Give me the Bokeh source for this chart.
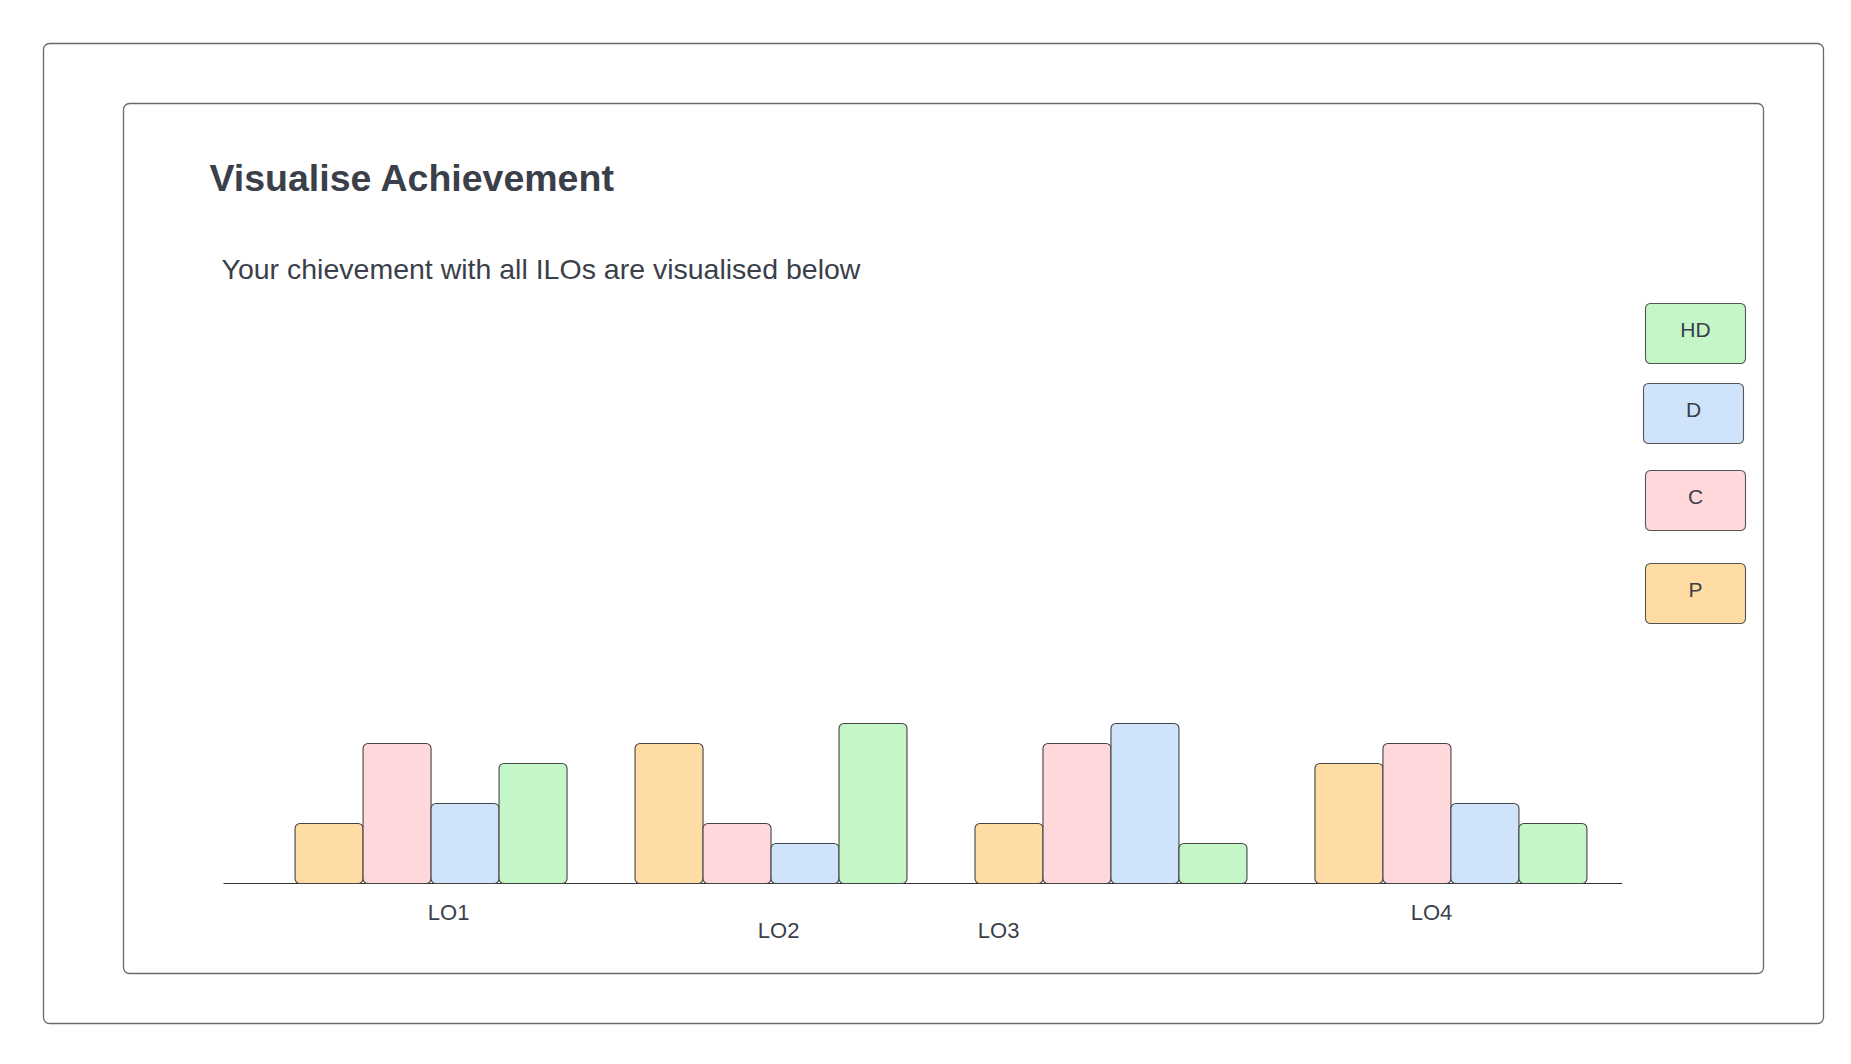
from bokeh.plotting import figure
from bokeh.models import FactorRange, ColumnDataSource, BoxAnnotation, Label, Range1d
from bokeh.transform import factor_cmap
from bokeh.core.properties import value
from bokeh.embed import file_html
from bokeh.resources import INLINE

# ---- data ----
los = ["LO1", "LO2", "LO3", "LO4"]
grades = ["P", "C", "D", "HD"]
p_vals = [3, 7, 3, 6]
c_vals = [7, 3, 7, 7]
d_vals = [4, 2, 8, 4]
hd_vals = [6, 8, 2, 3]
grade_colors = ["#ffdca3", "#ffd8dc", "#cfe3fb", "#c4f6c8"]
legend_order = ["HD", "D", "C", "P"]
title_text = "Visualise Achievement"
subtitle_text = "Your chievement with all ILOs are visualised below"

# ---- style / layout ----
TEXT = "#3a3f4a"
FONT = "Liberation Sans"
label_dx = [17.6, 7.6, -112.4, -19.4]
label_dy = [28.5, 46.5, 46.5, 28.5]
legend_left = [1645, 1643, 1645, 1645]
legend_top = [303, 383, 470, 563]

x = [(lo, g) for lo in los for g in grades]
vals = []
for i in range(len(los)):
    vals += [p_vals[i], c_vals[i], d_vals[i], hd_vals[i]]
src = ColumnDataSource(dict(x=x, v=vals))

p = figure(width=1851, height=1064,
           x_range=FactorRange(*x, group_padding=1.0, range_padding=3.744,
                               range_padding_units="absolute"),
           y_range=Range1d(-9.05, 44.15),
           output_backend="svg", toolbar_location=None,
           x_axis_location=None, y_axis_location=None,
           min_border_left=40, min_border_right=10,
           min_border_top=0, min_border_bottom=0)
p.outline_line_color = None
p.background_fill_color = "white"
p.border_fill_color = "white"
p.grid.visible = False
p.xgrid.visible = False
p.ygrid.visible = False

# baseline
p.segment(x0=[("LO1", "P", -1.553)], y0=[0], x1=[("LO4", "HD", 1.02)], y1=[0],
          line_color="#333333", line_width=1.2)

p.vbar(x="x", top="v", bottom=0, width=1.0, source=src,
       fill_color=factor_cmap("x", palette=grade_colors, factors=grades, start=1, end=2),
       line_color="#444444", line_width=1.1, border_radius=5)

p.text(x=los, y=[0] * 4, text=los, x_offset=label_dx, y_offset=label_dy,
       text_align="center", text_baseline="alphabetic",
       text_font=value(FONT), text_font_size="22px", text_color=TEXT)

# frames
for l, r, t, b in [(43, 1823, 43, 1023), (123, 1763, 103, 973)]:
    p.add_layout(BoxAnnotation(left=l, right=r, top=t, bottom=b,
                               left_units="canvas", right_units="canvas",
                               top_units="canvas", bottom_units="canvas",
                               fill_color=None, line_color="#6a6a6a", line_alpha=1.0,
                               line_width=1.3, border_radius=6, level="underlay"))

p.add_layout(Label(x=209, y=177.5, x_units="canvas", y_units="canvas", text=title_text,
                   text_font=FONT, text_font_size="37.5px", text_font_style="bold",
                   text_color=TEXT, text_baseline="alphabetic"))
p.add_layout(Label(x=221, y=268.5, x_units="canvas", y_units="canvas", text=subtitle_text,
                   text_font=FONT, text_font_size="28.5px",
                   text_color=TEXT, text_baseline="alphabetic"))

# legend boxes
cmap = dict(zip(grades, grade_colors))
for g, lft, tp in zip(legend_order, legend_left, legend_top):
    p.add_layout(BoxAnnotation(left=lft, right=lft + 100, top=tp, bottom=tp + 60,
                               left_units="canvas", right_units="canvas",
                               top_units="canvas", bottom_units="canvas",
                               fill_color=cmap[g], fill_alpha=1.0,
                               line_color="#555555", line_alpha=1.0,
                               line_width=1.1, border_radius=5))
    p.add_layout(Label(x=lft + 50, y=tp + 26, x_units="canvas", y_units="canvas",
                       text=g, text_font=FONT, text_font_size="21px",
                       text_color=TEXT, text_align="center", text_baseline="alphabetic"))

open("out.html", "w").write(file_html(p, INLINE))
